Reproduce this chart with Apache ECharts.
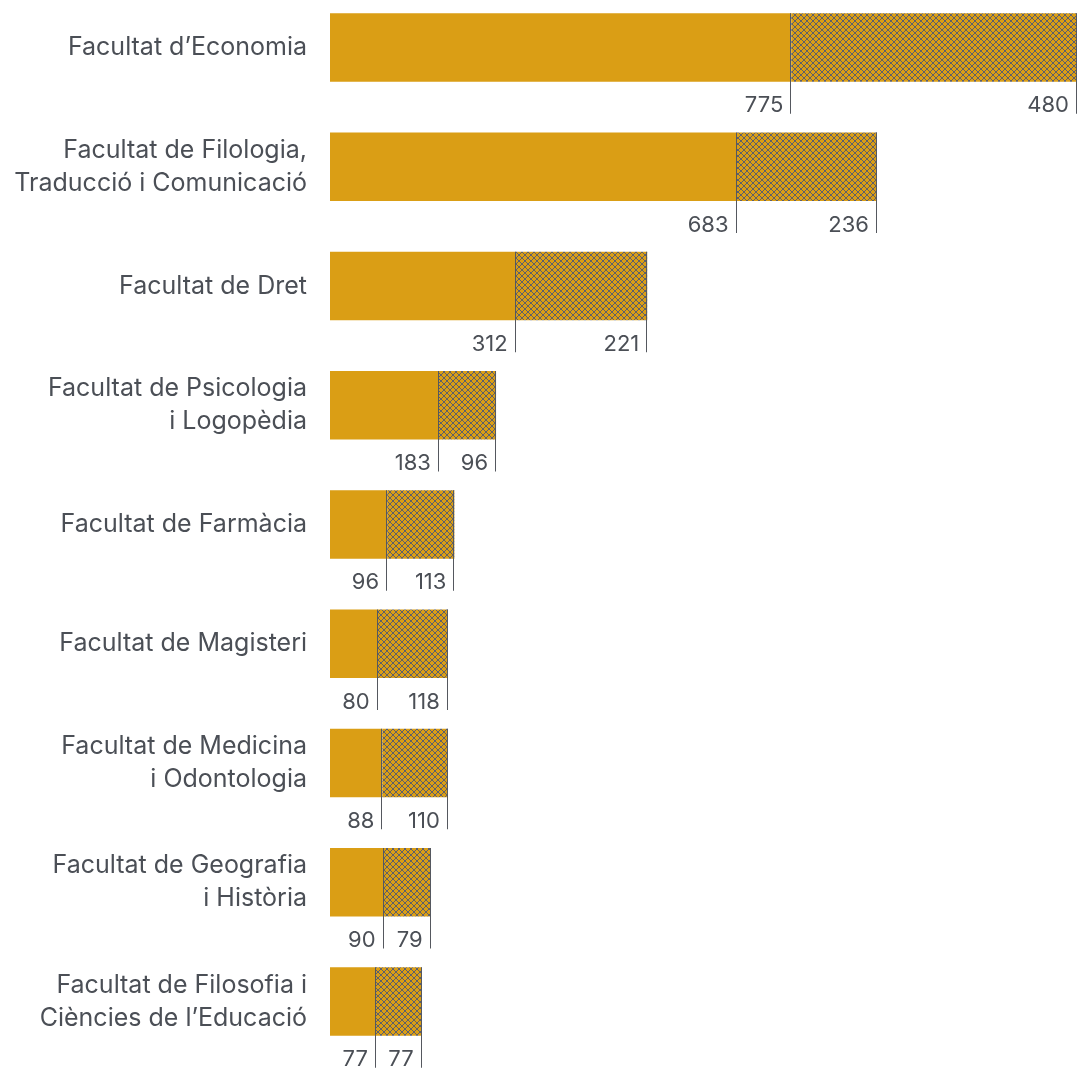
<!DOCTYPE html>
<html>
<head>
<meta charset="utf-8">
<script src="https://cdn.jsdelivr.net/npm/echarts@6/dist/echarts.min.js"></script>
<style>
html,body{margin:0;padding:0;background:#fff;}
#chart{width:1079px;height:1069px;}
</style>
</head>
<body>
<div id="chart"></div>
<script>
const categories = [
  "Facultat d’Economia",
  "Facultat de Filologia,\nTraducció i Comunicació",
  "Facultat de Dret",
  "Facultat de Psicologia\ni Logopèdia",
  "Facultat de Farmàcia",
  "Facultat de Magisteri",
  "Facultat de Medicina\ni Odontologia",
  "Facultat de Geografia\ni Història",
  "Facultat de Filosofia i\nCiències de l’Educació"
];
const solidValues = [775, 683, 312, 183, 96, 80, 88, 90, 77];
const hatchedValues = [480, 236, 221, 96, 113, 118, 110, 79, 77];

const GOLD = '#DA9E15';
const HATCH_LINE = '#5d5f6b';
const TEXT = '#4b4f56';
const BAR_H = 68.5;
const FONT = 'Inter, "Noto Sans", sans-serif';

// crosshatch pattern
const pc = document.createElement('canvas');
pc.width = 6; pc.height = 6;
const ctx = pc.getContext('2d');
ctx.fillStyle = GOLD;
ctx.fillRect(0, 0, 6, 6);
ctx.strokeStyle = HATCH_LINE;
ctx.lineWidth = 1;
ctx.beginPath();
ctx.moveTo(-1, -1); ctx.lineTo(7, 7);
ctx.moveTo(7, -1); ctx.lineTo(-1, 7);
ctx.stroke();

const chart = echarts.init(document.getElementById('chart'));
chart.setOption({
  animation: false,
  grid: { left: 330, right: 2, top: 47.5, height: 954 },
  xAxis: { type: 'value', min: 0, max: 1255, show: false },
  yAxis: {
    type: 'category', data: categories, inverse: true, boundaryGap: false,
    axisLine: { show: false }, axisTick: { show: false }, splitLine: { show: false },
    axisLabel: { fontFamily: FONT, fontSize: 25, color: TEXT, lineHeight: 33, margin: 23, align: 'right' }
  },
  series: [
    { type: 'bar', stack: 's', data: solidValues, barWidth: BAR_H, clip: false, itemStyle: { color: GOLD } },
    { type: 'bar', stack: 's', data: hatchedValues, barWidth: BAR_H, clip: false, itemStyle: { color: { image: pc, repeat: 'repeat' } } },
    {
      type: 'custom',
      data: categories.map((c, i) => [i, solidValues[i], hatchedValues[i]]),
      encode: { y: 0 },
      z: 5,
      clip: false,
      renderItem: function (params, api) {
        const i = api.value(0), a = api.value(1), b = api.value(2);
        const p1 = api.coord([a, i]);
        const p2 = api.coord([a + b, i]);
        const top = p1[1] - BAR_H / 2;
        const bot = p1[1] + BAR_H / 2;
        const lineStyle = { stroke: '#55585f', lineWidth: 1 };
        const mk = (x, val) => [
          { type: 'line', shape: { x1: Math.round(x) - 0.5, y1: top, x2: Math.round(x) - 0.5, y2: bot + 32 }, style: lineStyle },
          { type: 'text', style: { text: String(val), x: x - 8, y: bot + 24, align: 'right', verticalAlign: 'middle', fontSize: 22, fontFamily: FONT, fill: TEXT } }
        ];
        return { type: 'group', children: mk(p1[0], a).concat(mk(p2[0], b)) };
      }
    }
  ]
});
</script>
</body>
</html>
